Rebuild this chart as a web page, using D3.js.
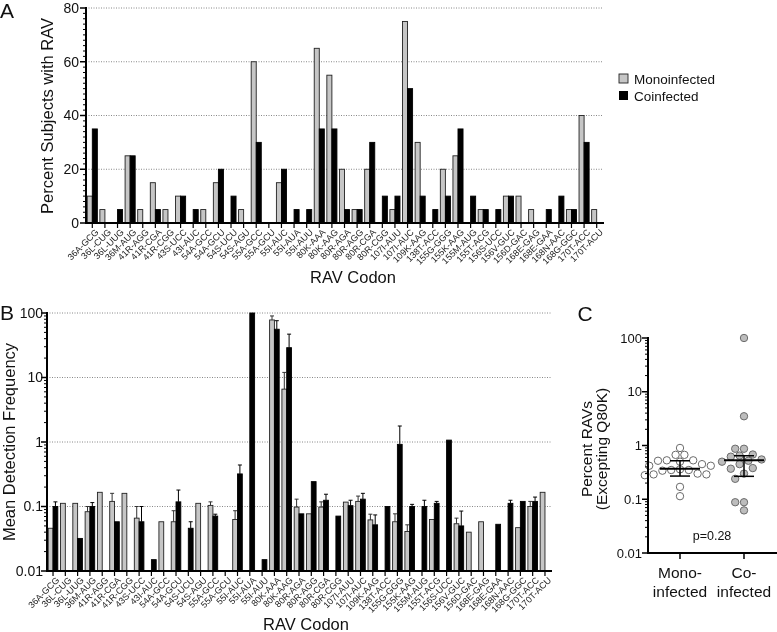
<!DOCTYPE html>
<html>
<head>
<meta charset="utf-8">
<script src="https://cdn.jsdelivr.net/npm/d3@7"></script>
<style>
  body { margin: 0; background: #fff; }
  svg { filter: grayscale(1); }
  svg text { font-family: "Liberation Sans", Arial, sans-serif; fill: #111; }
</style>
</head>
<body>
<div id="chart"></div>
<script>
// categories shared by panels A and B
let codons = ["36A-GCG","36L-CUG","36L-UUG","36M-AUG","41R-AGG","41R-CGA","41R-CGG","43S-UCC","43I-AUC",
  "54A-GCC","54A-GCU","54S-UCU","54S-AGU","55A-GCC","55A-GCU","55I-AUC","55I-AUA","55I-AUU","80K-AAA",
  "80K-AAG","80R-AGA","80R-AGG","80R-CGA","80R-CGG","107I-AUU","107I-AUC","109K-AAG","138T-ACC",
  "155G-GGG","155K-AAG","155M-AUG","155T-ACG","156S-UCC","156V-GUC","156D-GAC","168E-GAG","168E-GAA",
  "168N-AAC","168G-GGC","170T-ACC","170T-ACU"];

// panel A: percent subjects with RAV
let monoPct = [10,5,0,25,5,15,5,10,0,5,15,0,5,60,0,15,0,0,65,55,20,5,20,0,5,75,30,0,20,25,0,5,0,10,10,5,0,0,5,40,5];
let coPct   = [35,0,5,25,0,5,0,10,5,0,20,10,0,30,0,20,5,5,35,35,5,5,30,10,10,50,10,5,10,35,10,5,5,10,0,0,5,10,5,30,0];

// panel B: mean detection frequency and upper error (null = none)
let monoFreq = [0.046,0.112,0.112,0.083,0.166,0.12,0.16,0.066,null,0.058,0.058,null,0.112,0.104,null,0.063,null,null,
  78,6.6,0.098,0.077,0.098,null,0.117,0.12,0.062,null,0.058,0.041,null,0.063,null,0.054,0.04,0.058,null,null,0.047,0.1,0.166];
let monoErr  = [null,null,null,0.1,null,0.16,null,0.1,null,null,0.086,null,null,0.118,null,0.086,null,null,
  90,12,0.13,null,0.118,null,null,0.145,0.076,null,0.077,0.052,null,null,null,0.066,null,null,null,null,null,0.12,null];
let coFreq   = [0.1,null,0.032,0.1,null,0.058,null,0.058,0.015,null,0.118,0.046,null,0.071,null,0.32,100,0.015,
  56,29,0.077,0.243,0.125,0.071,0.103,0.13,0.052,0.1,0.92,0.1,0.1,0.112,1.07,0.05,null,null,0.053,0.112,0.12,0.12,null];
let coErr    = [0.118,null,null,0.115,null,null,null,0.1,null,null,0.18,0.058,null,0.076,null,0.44,null,null,
  76,47,null,null,0.155,null,0.125,0.16,0.074,null,1.77,0.108,0.125,0.12,null,0.085,null,null,null,0.125,null,0.14,null];

// panel C: percent RAVs per subject
let groups = ["Mono-infected","Co-infected"];
let monoRav = [0.9,0.67,0.67,0.53,0.53,0.52,0.5,0.45,0.42,0.42,0.36,0.35,0.35,0.34,0.3,0.29,0.29,0.28,0.17,0.114];
let coRav = [100,3.5,0.87,0.87,0.68,0.65,0.62,0.55,0.52,0.5,0.45,0.38,0.37,0.3,0.24,0.088,0.088,0.062];
let ravMid = [0.37, 0.53];
let ravLo  = [0.27, 0.267];
let ravHi  = [0.52, 0.645];

let grey = "#c6c6c6";

var svg = d3.select("#chart").append("svg")
  .attr("width", 777)
  .attr("height", 632);

function gridLine(g, y, x1, x2){
  g.append("line").attr("x1", x1).attr("x2", x2).attr("y1", y).attr("y2", y)
    .attr("stroke", "#888").attr("stroke-width", 1).attr("stroke-dasharray", "1,1.5");
}

function xLabels(xs, y0){
  let g = svg.append("g");
  codons.forEach(c => {
    let cx = xs(c) + xs.bandwidth() / 2;
    g.append("line").attr("x1", cx).attr("x2", cx).attr("y1", y0).attr("y2", y0 + 4)
      .attr("stroke", "#000").attr("stroke-width", 1.2);
    g.append("text")
      .attr("transform", "translate(" + (cx + 3) + "," + (y0 + 5) + ") rotate(-45)")
      .attr("text-anchor", "end")
      .attr("dy", "0.6em")
      .style("font-size", "9px")
      .style("fill", "#222")
      .text(c);
  });
}

function logMinor(ys, x0){
  for (let k = -2; k < 2; k++){
    for (let m = 2; m <= 9; m++){
      let y = ys(m * Math.pow(10, k));
      svg.append("line").attr("x1", x0 - 3).attr("x2", x0).attr("y1", y).attr("y2", y)
        .attr("stroke", "#000").attr("stroke-width", 1);
    }
  }
}

function fmtLog(t){
  return t >= 1 ? d3.format("d")(t) : String(t);
}

// ---------------- panel A ----------------
let xA = d3.scaleBand().domain(codons).range([86, 603]).paddingInner(0.2).paddingOuter(0.1);
let yA = d3.scaleLinear().domain([0, 80]).range([223, 8]);

[20, 40, 60, 80].forEach(t => gridLine(svg, yA(t), 86, 603));

codons.forEach((c, i) => {
  let w = xA.bandwidth() / 2;
  if (monoPct[i] > 0){
    svg.append("rect").attr("x", xA(c)).attr("y", yA(monoPct[i]))
      .attr("width", w).attr("height", yA(0) - yA(monoPct[i]))
      .attr("fill", grey).attr("stroke", "#222").attr("stroke-width", 0.9);
  }
  if (coPct[i] > 0){
    svg.append("rect").attr("x", xA(c) + w).attr("y", yA(coPct[i]))
      .attr("width", w).attr("height", yA(0) - yA(coPct[i]))
      .attr("fill", "#000").attr("stroke", "#000").attr("stroke-width", 0.9);
  }
});

for (let v = 0; v <= 80; v += 2){
  let major = v % 20 == 0;
  svg.append("line").attr("x1", major ? 80 : 83).attr("x2", 86).attr("y1", yA(v)).attr("y2", yA(v))
    .attr("stroke", "#000").attr("stroke-width", major ? 1.5 : 1);
  if (major){
    svg.append("text").attr("x", 79).attr("y", yA(v)).attr("dy", "0.35em")
      .attr("text-anchor", "end").style("font-size", "14px").text(v);
  }
}
svg.append("line").attr("x1", 86).attr("x2", 86).attr("y1", 7).attr("y2", 224).attr("stroke", "#000").attr("stroke-width", 2);
svg.append("line").attr("x1", 85).attr("x2", 604).attr("y1", 223).attr("y2", 223).attr("stroke", "#000").attr("stroke-width", 2);
xLabels(xA, 224);

svg.append("text").attr("x", 353).attr("y", 283).attr("text-anchor", "middle").style("font-size", "16.5px").text("RAV Codon");
svg.append("text").attr("transform", "translate(53,116) rotate(-90)").attr("text-anchor", "middle")
  .style("font-size", "16.5px").text("Percent Subjects with RAV");
svg.append("text").attr("x", 0).attr("y", 18).style("font-size", "21px").text("A");

// legend
svg.append("rect").attr("x", 619).attr("y", 74).attr("width", 9).attr("height", 9)
  .attr("fill", grey).attr("stroke", "#222").attr("stroke-width", 0.9);
svg.append("rect").attr("x", 619).attr("y", 91).attr("width", 9).attr("height", 9).attr("fill", "#000");
svg.append("text").attr("x", 634).attr("y", 79).attr("dy", "0.35em").style("font-size", "13.5px").text("Monoinfected");
svg.append("text").attr("x", 634).attr("y", 96).attr("dy", "0.35em").style("font-size", "13.5px").text("Coinfected");

// ---------------- panel B ----------------
let xB = d3.scaleBand().domain(codons).range([47, 551]).paddingInner(0.22).paddingOuter(0.1);
let yB = d3.scaleLog().domain([0.01, 100]).range([571, 313]);
let decades = [0.01, 0.1, 1, 10, 100];

[0.1, 1, 10, 100].forEach(t => gridLine(svg, yB(t), 47, 551));

function barB(x, w, v, e, fill, errColor){
  if (v == null) return;
  if (e != null){
    svg.append("line").attr("x1", x + w / 2).attr("x2", x + w / 2).attr("y1", yB(v)).attr("y2", yB(e))
      .attr("stroke", errColor).attr("stroke-width", 1);
    svg.append("line").attr("x1", x + w / 2 - 2).attr("x2", x + w / 2 + 2).attr("y1", yB(e)).attr("y2", yB(e))
      .attr("stroke", errColor).attr("stroke-width", 1);
  }
  svg.append("rect").attr("x", x).attr("y", yB(v))
    .attr("width", w).attr("height", yB(0.01) - yB(v))
    .attr("fill", fill).attr("stroke", fill == "#000" ? "#000" : "#222").attr("stroke-width", 0.9);
}

codons.forEach((c, i) => {
  let w = xB.bandwidth() / 2;
  barB(xB(c), w, monoFreq[i], monoErr[i], grey, "#333");
  barB(xB(c) + w, w, coFreq[i], coErr[i], "#000", "#000");
});

logMinor(yB, 47);
decades.forEach(t => {
  svg.append("line").attr("x1", 41).attr("x2", 47).attr("y1", yB(t)).attr("y2", yB(t)).attr("stroke", "#000").attr("stroke-width", 1.5);
  svg.append("text").attr("x", 43).attr("y", yB(t)).attr("dy", "0.35em")
    .attr("text-anchor", "end").style("font-size", "14px").text(fmtLog(t));
});
svg.append("line").attr("x1", 47).attr("x2", 47).attr("y1", 312).attr("y2", 572).attr("stroke", "#000").attr("stroke-width", 2);
svg.append("line").attr("x1", 46).attr("x2", 552).attr("y1", 571).attr("y2", 571).attr("stroke", "#000").attr("stroke-width", 2);
xLabels(xB, 572);

svg.append("text").attr("x", 306).attr("y", 630).attr("text-anchor", "middle").style("font-size", "16.5px").text("RAV Codon");
svg.append("text").attr("transform", "translate(15,442) rotate(-90)").attr("text-anchor", "middle")
  .style("font-size", "16.5px").text("Mean Detection Frequency");
svg.append("text").attr("x", 0).attr("y", 320).style("font-size", "21px").text("B");

// ---------------- panel C ----------------
let xC = d3.scalePoint().domain(groups).range([648, 776]).padding(0.5);
let yC = d3.scaleLog().domain([0.01, 100]).range([553, 338]);

// simple swarm so the dots don't overlap too much
function swarm(vals){
  let placed = [];
  vals.slice().sort((a, b) => b - a).forEach(v => {
    let y = yC(v);
    for (let k = 0; k < 40; k++){
      let off = (k % 2 == 0 ? 1 : -1) * Math.ceil(k / 2) * 4.4;
      let hit = placed.some(p => Math.hypot(p.dx - off, p.y - y) < 7.4);
      if (!hit){ placed.push({dx: off, y: y, v: v}); break; }
    }
  });
  return placed;
}

[monoRav, coRav].forEach((vals, gi) => {
  let cx = xC(groups[gi]);
  swarm(vals).forEach(p => {
    svg.append("circle").attr("cx", cx + p.dx).attr("cy", p.y).attr("r", 3.7)
      .attr("fill", gi == 0 ? "#fff" : "#bdbdbd").attr("stroke", "#6a6a6a").attr("stroke-width", 1);
  });
  // median and interquartile bars
  svg.append("line").attr("x1", cx - 20).attr("x2", cx + 20).attr("y1", yC(ravMid[gi])).attr("y2", yC(ravMid[gi]))
    .attr("stroke", "#000").attr("stroke-width", 2);
  svg.append("line").attr("x1", cx).attr("x2", cx).attr("y1", yC(ravLo[gi])).attr("y2", yC(ravHi[gi]))
    .attr("stroke", "#000").attr("stroke-width", 1.5);
  [ravLo[gi], ravHi[gi]].forEach(v => {
    svg.append("line").attr("x1", cx - 10).attr("x2", cx + 10).attr("y1", yC(v)).attr("y2", yC(v))
      .attr("stroke", "#000").attr("stroke-width", 1.5);
  });
});

logMinor(yC, 648);
decades.forEach(t => {
  svg.append("line").attr("x1", 642).attr("x2", 648).attr("y1", yC(t)).attr("y2", yC(t)).attr("stroke", "#000").attr("stroke-width", 1.5);
  svg.append("text").attr("x", 642).attr("y", yC(t)).attr("dy", "0.35em")
    .attr("text-anchor", "end").style("font-size", "13px").text(fmtLog(t));
});
svg.append("line").attr("x1", 648).attr("x2", 648).attr("y1", 337).attr("y2", 554).attr("stroke", "#000").attr("stroke-width", 2);
svg.append("line").attr("x1", 647).attr("x2", 777).attr("y1", 553).attr("y2", 553).attr("stroke", "#000").attr("stroke-width", 2);

groups.forEach(g => {
  let cx = xC(g);
  svg.append("line").attr("x1", cx).attr("x2", cx).attr("y1", 553).attr("y2", 559).attr("stroke", "#000").attr("stroke-width", 1.5);
  let parts = g.split("-");
  svg.append("text").attr("x", cx).attr("y", 578).attr("text-anchor", "middle").style("font-size", "15.5px").text(parts[0] + "-");
  svg.append("text").attr("x", cx).attr("y", 597).attr("text-anchor", "middle").style("font-size", "15.5px").text(parts[1]);
});

svg.append("text").attr("x", 712).attr("y", 540).attr("text-anchor", "middle").style("font-size", "12.5px").text("p=0.28");
svg.append("text").attr("transform", "translate(592,449) rotate(-90)").attr("text-anchor", "middle")
  .style("font-size", "15.5px").text("Percent RAVs");
svg.append("text").attr("transform", "translate(607,449) rotate(-90)").attr("text-anchor", "middle")
  .style("font-size", "15.5px").text("(Excepting Q80K)");
svg.append("text").attr("x", 585).attr("y", 321).attr("text-anchor", "middle").style("font-size", "21px").text("C");
</script>
</body>
</html>
